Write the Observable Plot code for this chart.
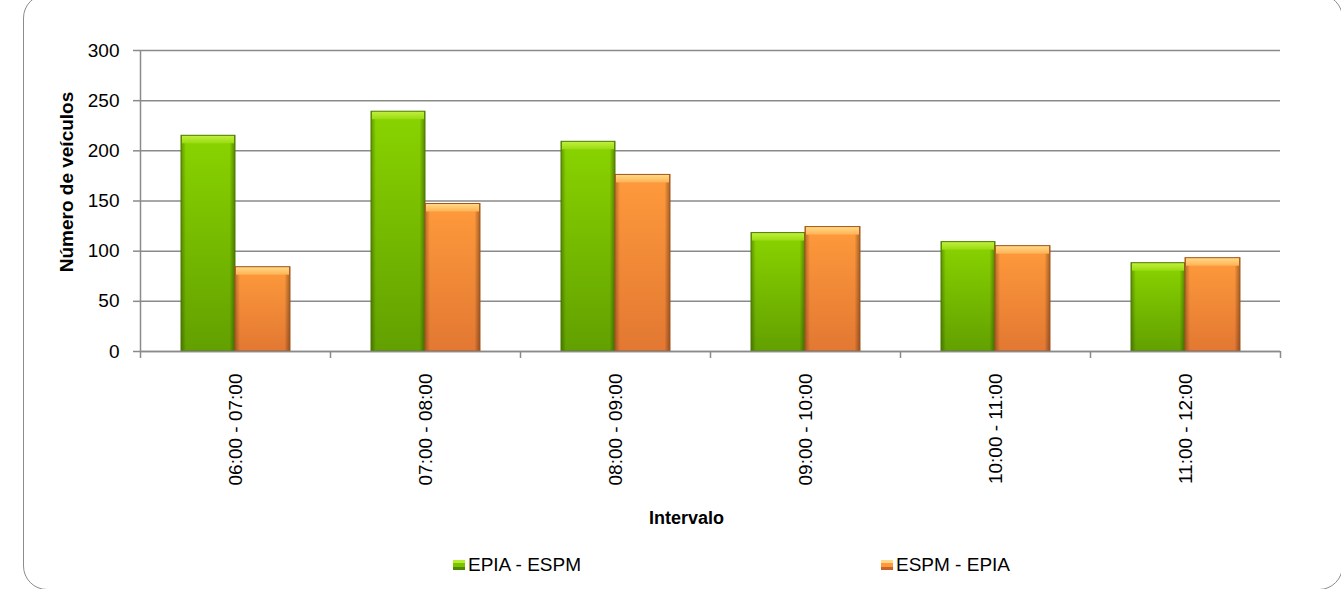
<!DOCTYPE html>
<html>
<head>
<meta charset="utf-8">
<script src="https://cdn.jsdelivr.net/npm/d3@7"></script>
<script src="https://cdn.jsdelivr.net/npm/@observablehq/plot@0.6"></script>
<style>
  html, body { margin: 0; padding: 0; background: #fff; }
  body { position: relative; width: 1341px; height: 589px; overflow: hidden; font-family: "Liberation Sans", Arial, sans-serif; }
  #frame { position: absolute; left: 23px; top: -6px; width: 1320px; height: 596px; border: 1.5px solid #8c8c8c; border-radius: 24px; box-sizing: border-box; }
  #chart { position: absolute; left: 0; top: 0; }
  #legend { position: absolute; top: 553px; left: 0; width: 1341px; height: 24px; font-size: 19px; color: #000; }
  .item { position: absolute; top: 0; display: flex; align-items: center; height: 24px; }
  .sw { width: 12px; height: 10px; margin-right: 3px; }
</style>
</head>
<body>
<svg width="0" height="0" style="position:absolute">
  <defs>
    <linearGradient id="gGreen" x1="0" y1="0" x2="0" y2="1">
      <stop offset="0" stop-color="#8ad400"/>
      <stop offset="1" stop-color="#62a000"/>
    </linearGradient>
    <linearGradient id="gOrange" x1="0" y1="0" x2="0" y2="1">
      <stop offset="0" stop-color="#ff9a3c"/>
      <stop offset="1" stop-color="#e27832"/>
    </linearGradient>
    <linearGradient id="gShade" x1="0" y1="0" x2="1" y2="0">
      <stop offset="0" stop-color="#000" stop-opacity="0.28"/>
      <stop offset="0.09" stop-color="#000" stop-opacity="0"/>
      <stop offset="0.9" stop-color="#000" stop-opacity="0"/>
      <stop offset="1" stop-color="#000" stop-opacity="0.35"/>
    </linearGradient>
    <linearGradient id="gGreenTop" x1="0" y1="0" x2="0" y2="1">
      <stop offset="0" stop-color="#c4f040"/>
      <stop offset="1" stop-color="#98dc10"/>
    </linearGradient>
    <linearGradient id="gOrangeTop" x1="0" y1="0" x2="0" y2="1">
      <stop offset="0" stop-color="#ffdc88"/>
      <stop offset="1" stop-color="#ffb255"/>
    </linearGradient>
  </defs>
</svg>
<div id="frame"></div>
<div id="chart"></div>
<div id="legend"></div>
<script>
// ---- data ----
const intervals = ["06:00 - 07:00", "07:00 - 08:00", "08:00 - 09:00", "09:00 - 10:00", "10:00 - 11:00", "11:00 - 12:00"];
const seriesNames = ["EPIA - ESPM", "ESPM - EPIA"];
const epiaEspm = [215, 239, 209, 118, 109, 88];
const espmEpia = [84, 147, 176, 124, 105, 93];
const yTicks = [0, 50, 100, 150, 200, 250, 300];
const yLabel = "Número de veículos";
const xLabel = "Intervalo";

const green = intervals.map((iv, i) => ({interval: iv, series: seriesNames[0], value: epiaEspm[i]}));
const orange = intervals.map((iv, i) => ({interval: iv, series: seriesNames[1], value: espmEpia[i]}));

const gridColor = "#8a8a8a";

const barSet = (data, fill, topFill, stroke, inL, inR) => [
  Plot.barY(data, {x: "interval", y: "value", fill, insetLeft: inL, insetRight: inR}),
  Plot.barY(data, {x: "interval", y: "value", fill: "url(#gShade)", insetLeft: inL, insetRight: inR}),
  Plot.barY(data, {x: "interval", y1: "value", y2: "value", fill: topFill, insetLeft: inL + 1, insetRight: inR + 1, insetBottom: -8}),
  Plot.barY(data, {x: "interval", y: "value", fill: "none", stroke, strokeWidth: 1, insetLeft: inL, insetRight: inR})
];

const chart = Plot.plot({
  width: 1341,
  height: 545,
  marginLeft: 140,
  marginRight: 61,
  marginTop: 50,
  marginBottom: 194,
  style: {fontFamily: "'Liberation Sans', Arial, sans-serif", fontSize: "19px", color: "#000", background: "transparent", overflow: "visible"},
  x: {domain: intervals, padding: 0, label: null, axis: null},
  y: {domain: [0, 300], label: null, axis: null},
  marks: [
    Plot.gridY(yTicks, {stroke: gridColor, strokeOpacity: 1, strokeWidth: 1.5}),
    ...barSet(green, "url(#gGreen)", "url(#gGreenTop)", "#4a7a00", 41, 95),
    ...barSet(orange, "url(#gOrange)", "url(#gOrangeTop)", "#a4541c", 95, 40),
    Plot.ruleY([0], {stroke: gridColor, strokeWidth: 1.5}),
    Plot.ruleX([intervals[0]], {x: d => d, y1: 0, y2: 300, dx: -95, stroke: gridColor, strokeWidth: 1.5}),
    Plot.axisY(yTicks, {tickSize: 7, tickPadding: 14, stroke: gridColor, strokeWidth: 1.5, fill: "#000", fontSize: 19, label: null}),
    Plot.axisX(intervals, {tickSize: 7, dx: -95, stroke: gridColor, strokeWidth: 1.5, tickFormat: () => "", label: null}),
    Plot.axisX([intervals[intervals.length - 1]], {tickSize: 7, dx: 95, stroke: gridColor, strokeWidth: 1.5, tickFormat: () => "", label: null}),
    Plot.axisX(intervals, {tickSize: 0, tickPadding: 22, tickRotate: -90, fill: "#000", fontSize: 19, label: null}),
    Plot.text([yLabel], {frameAnchor: "left", textAnchor: "middle", rotate: -90, dx: -74, dy: -19, fontWeight: "bold", fontSize: 19, letterSpacing: "1px", fill: "#000"}),
    Plot.text([xLabel], {frameAnchor: "bottom", dx: -24, dy: 172, fontWeight: "bold", fontSize: 18, fill: "#000"})
  ]
});
document.getElementById("chart").appendChild(chart);

// legend
const legend = document.getElementById("legend");
const legendItems = [
  {name: seriesNames[0], grad: "linear-gradient(#b8ec30 0 30%, #7cc400 30% 70%, #4e8a00 70%)", left: 453},
  {name: seriesNames[1], grad: "linear-gradient(#ffd888 0 30%, #ff9a3c 30% 70%, #c8642a 70%)", left: 881}
];
legendItems.forEach(it => {
  const d = document.createElement("div");
  d.className = "item";
  d.style.left = it.left + "px";
  const s = document.createElement("span");
  s.className = "sw";
  s.style.background = it.grad;
  const t = document.createElement("span");
  t.textContent = it.name;
  d.appendChild(s); d.appendChild(t);
  legend.appendChild(d);
});
</script>
</body>
</html>
